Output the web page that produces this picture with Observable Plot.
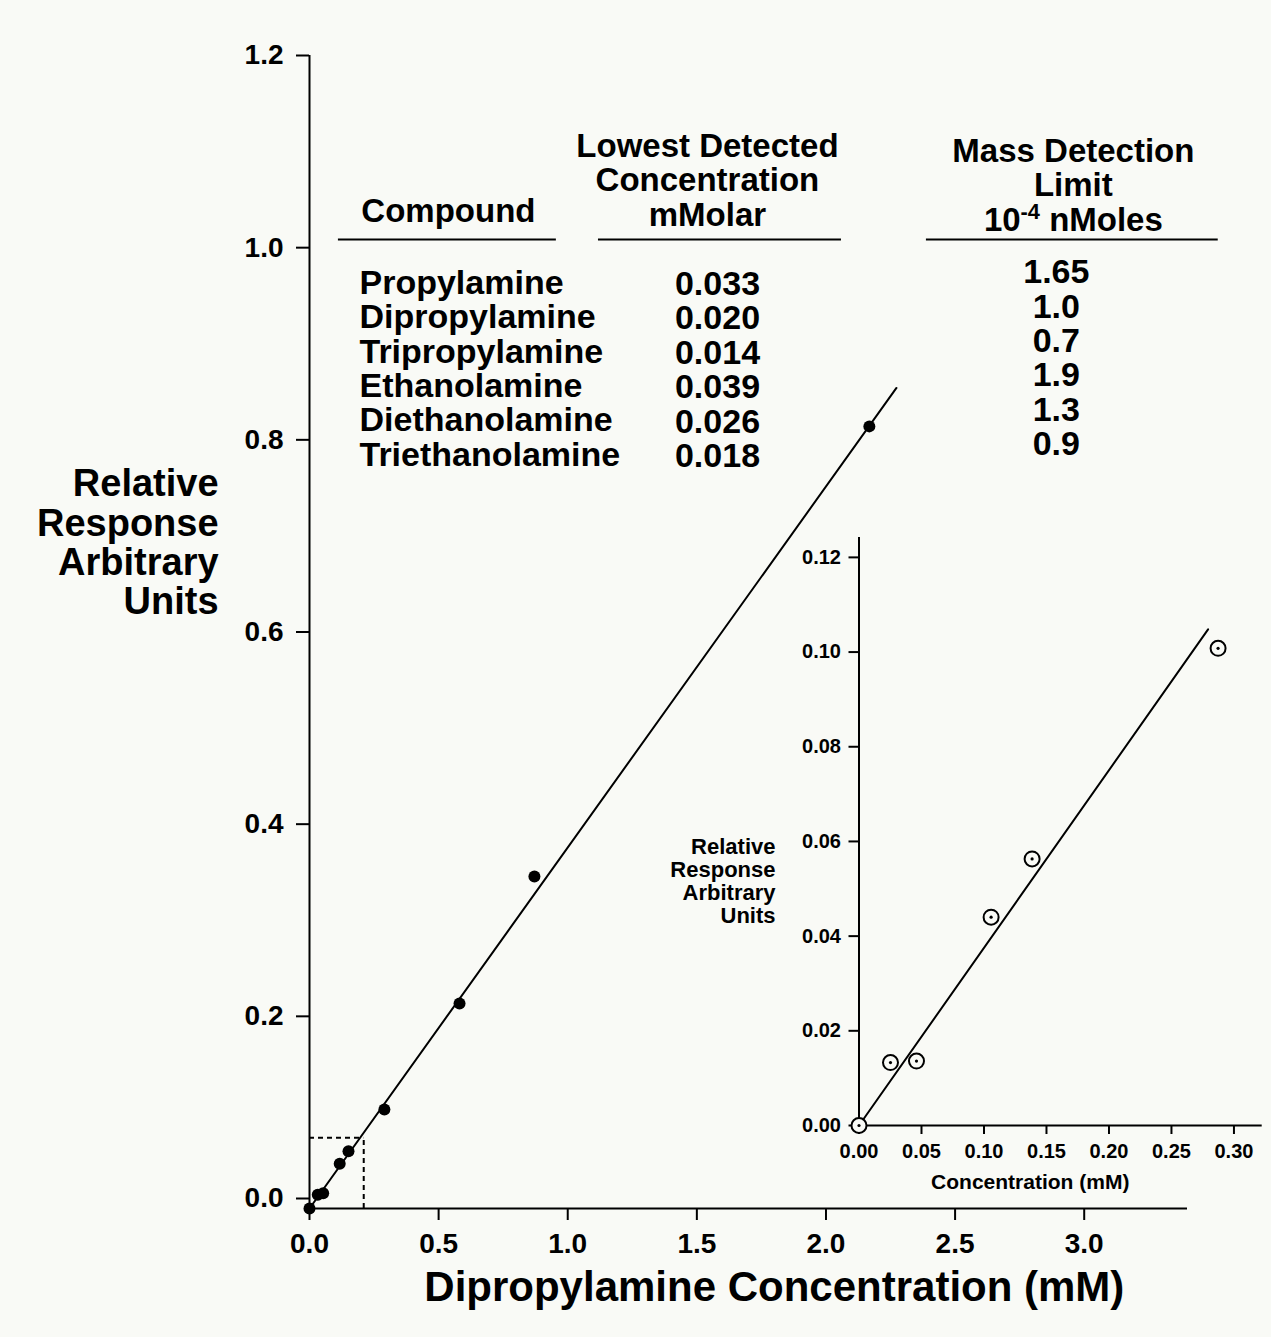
<!DOCTYPE html>
<html>
<head>
<meta charset="utf-8">
<script src="https://cdn.jsdelivr.net/npm/d3@7"></script>
<script src="https://cdn.jsdelivr.net/npm/@observablehq/plot@0.6"></script>
<style>
  html, body { margin: 0; padding: 0; background: #f9faf6; }
  #wrap { position: relative; width: 1271px; height: 1337px; overflow: hidden; }
  #wrap svg { position: absolute; }
</style>
</head>
<body>
<div id="wrap"></div>
<script>
// ---------- data ----------
const mainConc = [0, 0.032, 0.053, 0.117, 0.151, 0.290, 0.581, 0.871, 2.168];
const mainResp = [0, 0.0143, 0.0159, 0.0465, 0.0596, 0.103, 0.2134, 0.3455, 0.814];
const mainFitConc = [0, 2.273];
const mainFitResp = [0, 0.854];
const zoomBoxConc = 0.21;
const zoomBoxResp = 0.0736;

const insetConc = [0, 0.0252, 0.046, 0.1057, 0.1385, 0.2873];
const insetResp = [0, 0.0133, 0.0136, 0.0440, 0.0563, 0.1008];
const insetFitConc = [0, 0.2793];
const insetFitResp = [0, 0.1048];

const mainXTicks = [0, 0.5, 1.0, 1.5, 2.0, 2.5, 3.0];
const mainYTicks = [0, 0.2, 0.4, 0.6, 0.8, 1.0, 1.2];
const insetXTicks = [0, 0.05, 0.10, 0.15, 0.20, 0.25, 0.30];
const insetYTicks = [0, 0.02, 0.04, 0.06, 0.08, 0.10, 0.12];

const compounds = ["Propylamine", "Dipropylamine", "Tripropylamine", "Ethanolamine", "Diethanolamine", "Triethanolamine"];
const lowestConc = ["0.033", "0.020", "0.014", "0.039", "0.026", "0.018"];
const massLimit = ["1.65", "1.0", "0.7", "1.9", "1.3", "0.9"];

const headerCompound = ["Compound"];
const headerConc = ["Lowest Detected", "Concentration", "mMolar"];
const headerMass = ["Mass Detection", "Limit", "10-4 nMoles"];

const mainYTitle = ["Relative", "Response", "Arbitrary", "Units"];
const mainXTitle = "Dipropylamine Concentration (mM)";
const insetYTitle = ["Relative", "Response", "Arbitrary", "Units"];
const insetXTitle = "Concentration (mM)";

// ---------- helpers ----------
const BG = "#f9faf6";
const FONT = "'Liberation Sans', Arial, Helvetica, sans-serif";
const mainPts = mainConc.map((c, i) => ({c, r: mainResp[i]}));
const mainFit = mainFitConc.map((c, i) => ({c, r: mainFitResp[i]}));
const insetPts = insetConc.map((c, i) => ({c, r: insetResp[i]}));
const insetFit = insetFitConc.map((c, i) => ({c, r: insetFitResp[i]}));
const bold = {fontWeight: "bold", fill: "black"};

// ---------- main chart ----------
const main = Plot.plot({
  width: 1271, height: 1337,
  marginLeft: 309, marginRight: 84, marginTop: 55, marginBottom: 129,
  x: {domain: [0, 3.4]},
  y: {domain: [0, 1.2]},
  style: {background: "transparent", fontFamily: FONT, overflow: "visible", color: "black"},
  marks: [
    Plot.ruleX([0], {y1: 0, y2: 1.2, strokeWidth: 2}),
    Plot.ruleY([0], {x1: 0, x2: 3.4, strokeWidth: 2}),
    Plot.axisX({ticks: mainXTicks, tickFormat: d3.format(".1f"), tickSize: 12, tickPadding: 13,
      fontSize: 28, fontWeight: "bold", strokeWidth: 2, label: null}),
    Plot.axisY({ticks: mainYTicks.slice(1), tickFormat: d3.format(".1f"), tickSize: 13, tickPadding: 13,
      fontSize: 28, fontWeight: "bold", strokeWidth: 2, label: null}),
    Plot.axisY({ticks: mainYTicks.slice(0, 1), tickFormat: d3.format(".1f"), tickSize: 13, tickPadding: 13,
      fontSize: 28, fontWeight: "bold", strokeWidth: 2, label: null, dy: -10}),
    // dashed zoom box
    Plot.ruleY([zoomBoxResp], {x1: 0, x2: zoomBoxConc, strokeWidth: 2, strokeDasharray: "5,4"}),
    Plot.ruleX([zoomBoxConc], {y1: 0, y2: zoomBoxResp, strokeWidth: 2, strokeDasharray: "5,4"}),
    // fit line and points
    Plot.line(mainFit, {x: "c", y: "r", stroke: "black", strokeWidth: 2}),
    Plot.dot(mainPts, {x: "c", y: "r", r: 6, fill: "black", stroke: "none"}),
    // table headers
    Plot.text([headerCompound.join("\n")], {x: 0.538, y: 1.0377, fontSize: 33, ...bold}),
    Plot.text([headerConc.join("\n")], {x: 1.541, y: 1.070, fontSize: 33, lineHeight: 1.04, ...bold}),
    Plot.text([headerMass.join("\n")], {x: 2.958, y: 1.0647, fontSize: 33, lineHeight: 1.04, ...bold}),
    Plot.ruleY([1.0085], {x1: 0.112, x2: 0.956, strokeWidth: 2}),
    Plot.ruleY([1.0085], {x1: 1.119, x2: 2.060, strokeWidth: 2}),
    Plot.ruleY([1.0085], {x1: 2.389, x2: 3.519, strokeWidth: 2}),
    // table body
    Plot.text([compounds.join("\n")], {x: 0.1936, y: 0.874, textAnchor: "start", fontSize: 34, lineHeight: 1.012, ...bold}),
    Plot.text([lowestConc.join("\n")], {x: 1.580, y: 0.8727, fontSize: 34, lineHeight: 1.012, ...bold}),
    Plot.text([massLimit.join("\n")], {x: 2.892, y: 0.885, fontSize: 34, lineHeight: 1.012, ...bold}),
    // axis titles
    Plot.text([mainYTitle.join("\n")], {x: -0.352, y: 0.693, textAnchor: "end", fontSize: 38, lineHeight: 1.03, ...bold}),
    Plot.text([mainXTitle], {x: 1.80, y: -0.0822, fontSize: 42, ...bold})
  ]
});

// superscript in "10-4 nMoles"
d3.select(main).selectAll("tspan, text").each(function() {
  if (this.childElementCount === 0 && this.textContent === headerMass[2]) {
    const t = d3.select(this);
    t.text(null);
    t.append("tspan").text("10");
    t.append("tspan").attr("baseline-shift", "super").attr("font-size", "66%").text("-4");
    t.append("tspan").text(" nMoles");
  }
});

// ---------- inset chart ----------
const inset = Plot.plot({
  width: 631, height: 690,
  marginLeft: 218.5, marginRight: 9.3, marginTop: 17, marginBottom: 85,
  x: {domain: [0, 0.3226]},
  y: {domain: [0, 0.1242]},
  style: {background: "transparent", fontFamily: FONT, overflow: "visible", color: "black"},
  marks: [
    Plot.ruleX([0], {y1: 0, y2: 0.1242, strokeWidth: 2}),
    Plot.ruleY([0], {x1: 0, x2: 0.3226, strokeWidth: 2}),
    Plot.axisX({ticks: insetXTicks, tickFormat: d3.format(".2f"), tickSize: 9, tickPadding: 9,
      fontSize: 20, fontWeight: "bold", strokeWidth: 2, label: null}),
    Plot.axisY({ticks: insetYTicks, tickFormat: d3.format(".2f"), tickSize: 10, tickPadding: 8,
      fontSize: 20, fontWeight: "bold", strokeWidth: 2, label: null}),
    Plot.line(insetFit, {x: "c", y: "r", stroke: "black", strokeWidth: 2}),
    Plot.dot(insetPts, {x: "c", y: "r", r: 7.5, fill: BG, stroke: "black", strokeWidth: 2}),
    Plot.dot(insetPts, {x: "c", y: "r", r: 1.6, fill: "black", stroke: "none"}),
    Plot.text([insetXTitle], {x: 0.137, y: -0.012, fontSize: 21, ...bold}),
    Plot.text([insetYTitle.join("\n")], {x: -0.0668, y: 0.0517, textAnchor: "end", fontSize: 22, lineHeight: 1.045, ...bold})
  ]
});

main.style.left = "0px"; main.style.top = "0px";
inset.style.left = "640px"; inset.style.top = "520px";
const wrap = document.getElementById("wrap");
wrap.appendChild(main);
wrap.appendChild(inset);
</script>
</body>
</html>
